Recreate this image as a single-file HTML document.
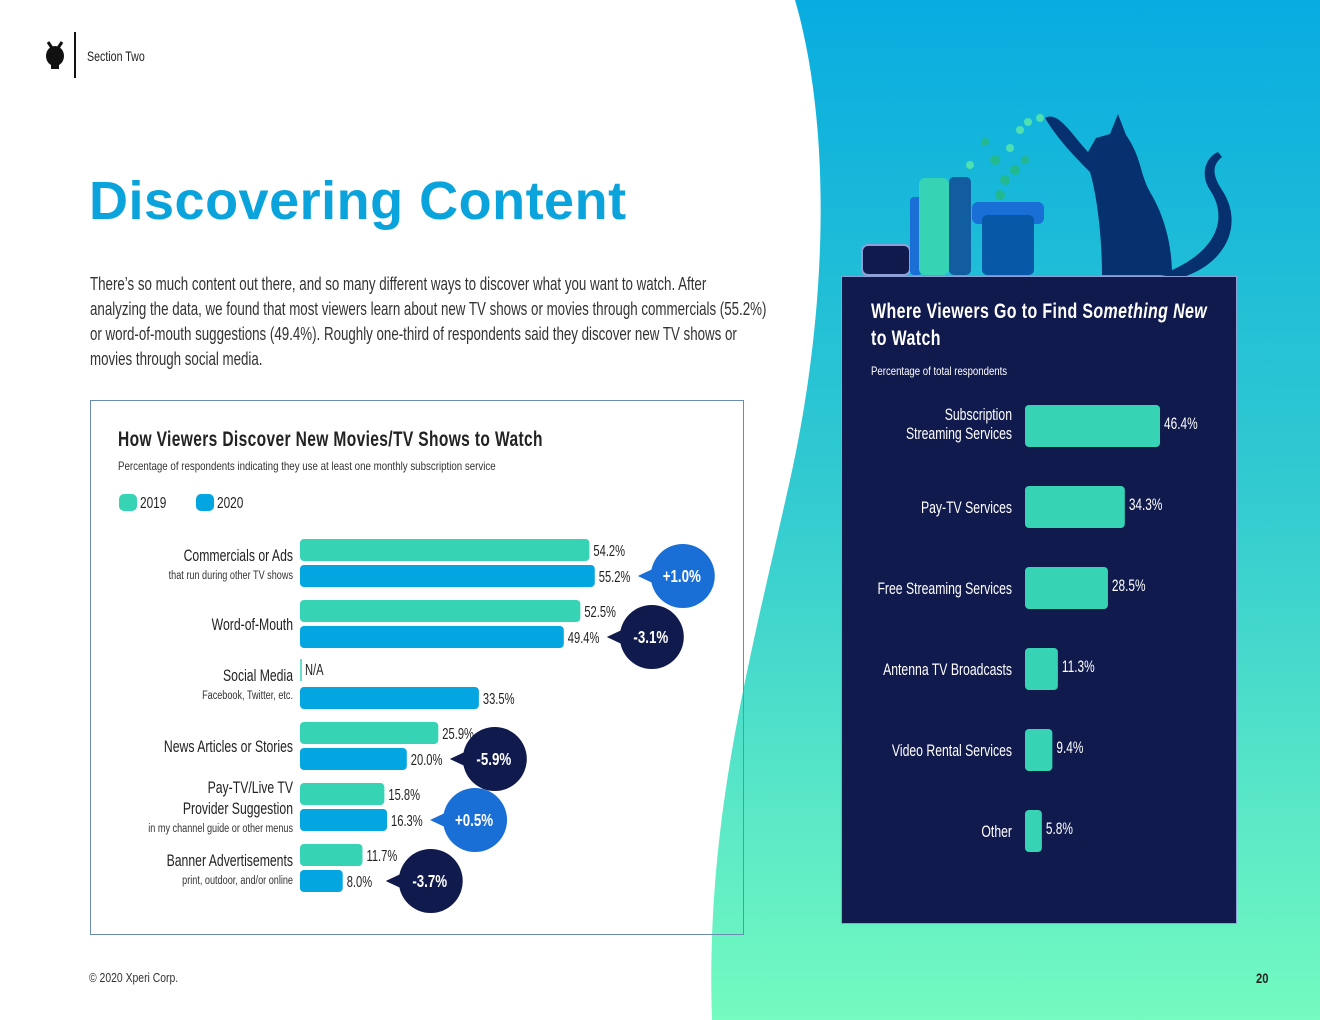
<!DOCTYPE html>
<html><head><meta charset="utf-8"><style>
body{margin:0;width:1320px;height:1020px;overflow:hidden;background:#fff;font-family:"Liberation Sans",sans-serif;position:relative}
.abs{position:absolute}
.c{transform-origin:0 0;white-space:nowrap}
</style></head><body>
<svg class="abs" style="left:0;top:0" width="1320" height="1020">
<defs><linearGradient id="bg" x1="0" y1="0" x2="0" y2="1"><stop offset="0" stop-color="#08ace0"/><stop offset="0.5" stop-color="#34ccd0"/><stop offset="1" stop-color="#74fbc0"/></linearGradient></defs>
<path d="M795,0 C830,120 830,300 790,480 C750,660 705,820 712,1020 L1320,1020 L1320,0 Z" fill="url(#bg)"/>
<g><ellipse cx="55" cy="56" rx="9" ry="10" fill="#111"/><rect x="51" y="64" width="8" height="5" fill="#111"/><line x1="48" y1="42" x2="52" y2="48" stroke="#111" stroke-width="3"/><line x1="62" y1="42" x2="58" y2="48" stroke="#111" stroke-width="3"/></g>
<line x1="75" y1="32" x2="75" y2="78" stroke="#111" stroke-width="2"/>
<g>
<rect x="862" y="245" width="48" height="30" rx="6" fill="#101a4c" stroke="#8fa0d8" stroke-width="2"/>
<rect x="910" y="197" width="12" height="78" rx="4" fill="#1a6fd6"/>
<rect x="919" y="178" width="30" height="97" rx="6" fill="#36d4b4"/>
<rect x="949" y="177" width="22" height="98" rx="5" fill="#125ca0"/>
<rect x="972" y="202" width="72" height="22" rx="6" fill="#1a6fd6"/>
<rect x="982" y="215" width="52" height="60" rx="5" fill="#0858a8"/>
<g fill="#22b890"><circle cx="985" cy="142" r="4"/><circle cx="995" cy="160" r="5"/><circle cx="1005" cy="180" r="5"/><circle cx="1015" cy="170" r="5"/><circle cx="1025" cy="160" r="4"/><circle cx="1000" cy="195" r="5"/></g>
<g fill="#4ee0b0"><circle cx="1020" cy="130" r="4"/><circle cx="1028" cy="122" r="4"/><circle cx="1040" cy="118" r="4"/><circle cx="970" cy="165" r="4"/><circle cx="1010" cy="148" r="4"/></g>
<path d="M1045,118 C1058,110 1072,135 1088,152 L1096,138 L1110,134 L1118,114 L1126,135 C1142,158 1140,175 1150,192 C1162,212 1172,240 1172,275 L1102,275 C1102,232 1096,192 1090,172 C1078,160 1058,140 1045,118 Z" fill="#06306e"/>
<path d="M1160,275 C1215,255 1230,220 1210,190 C1200,175 1205,158 1218,152 L1222,157 C1212,165 1212,175 1222,190 C1245,225 1225,265 1180,278 Z" fill="#06306e"/>
</g>
</svg>
<div class="abs c" style="left:87px;top:48px;font-size:14px;color:#222;transform:scaleX(0.76)">Section Two</div>
<div class="abs" style="left:89px;top:170px;font-size:54px;font-weight:bold;color:#0aa3dc;letter-spacing:0.5px">Discovering Content</div>
<div class="abs c" style="left:90px;top:271px;width:965px;font-size:18.5px;line-height:25px;color:#333;white-space:normal;transform:scaleX(0.72)">There’s so much content out there, and so many different ways to discover what you want to watch. After<br>analyzing the data, we found that most viewers learn about new TV shows or movies through commercials (55.2%)<br>or word-of-mouth suggestions (49.4%). Roughly one-third of respondents said they discover new TV shows or<br>movies through social media.</div>
<div class="abs" style="left:90px;top:400px;width:652px;height:533px;border:1px solid #6a8cb0"></div>
<div class="abs c" style="left:118px;top:428px;font-size:21px;font-weight:bold;color:#222;letter-spacing:0.5px;transform:scaleX(0.74)">How Viewers Discover New Movies/TV Shows to Watch</div>
<div class="abs c" style="left:118px;top:459px;font-size:12px;color:#333;transform:scaleX(0.81)">Percentage of respondents indicating they use at least one monthly subscription service</div>
<div class="abs" style="left:841px;top:276px;width:394px;height:646px;background:#101a4c;border:1px solid #8fa0d8"></div>
<div class="abs c" style="left:871px;top:298px;width:460px;font-size:21px;font-weight:bold;color:#fff;line-height:27px;letter-spacing:0.5px;white-space:normal;transform:scaleX(0.76)">Where Viewers Go to Find S<i>omething New</i><br>to Watch</div>
<div class="abs c" style="left:871px;top:364px;font-size:12px;color:#fff;transform:scaleX(0.8)">Percentage of total respondents</div>
<div class="abs c" style="left:89px;top:970px;font-size:13px;color:#333;transform:scaleX(0.8)">© 2020 Xperi Corp.</div>
<div class="abs c" style="left:1256px;top:970px;font-size:14px;font-weight:bold;color:#222;transform:scaleX(0.8)">20</div>
<svg id="chart" class="abs" style="left:0;top:0" width="1320" height="1020"></svg>
<script>
const cats=["Commercials or Ads","Word-of-Mouth","Social Media","News Articles or Stories","Pay-TV/Live TV|Provider Suggestion","Banner Advertisements"];
const subs=["that run during other TV shows","","Facebook, Twitter, etc.","","in my channel guide or other menus","print, outdoor, and/or online"];
const v2019=[54.2,52.5,null,25.9,15.8,11.7];
const v2020=[55.2,49.4,33.5,20.0,16.3,8.0];
const changes=["+1.0%","-3.1%",null,"-5.9%","+0.5%","-3.7%"];
const rCats=["Subscription|Streaming Services","Pay-TV Services","Free Streaming Services","Antenna TV Broadcasts","Video Rental Services","Other"];
const rVals=[46.4,34.3,28.5,11.3,9.4,5.8];

const NS="http://www.w3.org/2000/svg",svg=document.getElementById("chart");
function mk(t,a,p){const e=document.createElementNS(NS,t);for(const k in a)e.setAttribute(k,a[k]);(p||svg).appendChild(e);return e;}
function T(x,y,s,size,anchor,sx,weight,fill,p){const e=mk("text",{x:0,y:0,transform:`translate(${x},${y}) scale(${sx},1)`,"font-size":size,"text-anchor":anchor||"start","font-weight":weight||"normal",fill:fill||"#222","font-family":"Liberation Sans,sans-serif"},p);e.textContent=s;return e;}
const x=v=>300+v*5.34, gy=i=>539+i*61;
[["2019","#36d4b4",119],["2020","#03a6e0",196]].forEach(l=>{
 const r=mk("rect",{x:l[2],y:494,width:18,height:17,rx:5,fill:l[1]});
 
 
 const t=T(l[2]+21,508,l[0],16,"start",0.74);
 
 
});
cats.forEach((c,i)=>{
 const y=gy(i);
 if(v2019[i]!==null){
  const b=mk("rect",{x:300,y:y,width:x(v2019[i])-300,height:22,rx:4,fill:"#36d4b4"});
  
  
  T(x(v2019[i])+4,y+17,v2019[i].toFixed(1)+"%",15.5,"start",0.72);
 } else {
  mk("line",{x1:301,y1:y-2,x2:301,y2:y+20,stroke:"#36d4b4","stroke-width":1.5});
  T(305,y+14,"N/A",15.5,"start",0.72);
 }
 const y2=y+26;
 const b=mk("rect",{x:300,y:y2,width:x(v2020[i])-300,height:22,rx:4,fill:"#03a6e0"});
 
 
 T(x(v2020[i])+4,y2+17,v2020[i].toFixed(1)+"%",15.5,"start",0.72);
 if(changes[i]){
  const pos=changes[i][0]=="+";const col=pos?"#1a6fd6":"#101a4c";
  const cx=x(v2020[i])+88,cy=y2+11;
  const g=mk("g",{});
  
  
  mk("circle",{cx:cx,cy:cy,r:32,fill:col},g);
  mk("path",{d:`M${cx-45},${cy} L${cx-28},${cy-8} L${cx-28},${cy+8} Z`,fill:col},g);
  T(cx-1,cy+6,changes[i],18,"middle",0.74,"bold","#fff",g);
 }
 const lines=c.split("|");const hasSub=subs[i]!=="";
 let ly = lines.length>1 ? y+10 : (hasSub? y+22 : y+30);
 if(i==2) ly=y+20;
 lines.forEach((ln,k)=>{const lt=T(293,ly+k*21,ln,17,"end",0.72);
  
  });
 if(hasSub){T(293,ly+(lines.length-1)*21+18,subs[i],12,"end",0.76,"normal","#333");}
});
const rx=v=>1025+v*2.91, ry=i=>405+i*81;
rCats.forEach((c,i)=>{
 const y=ry(i);
 const b=mk("rect",{x:1025,y:y,width:rx(rVals[i])-1025,height:42,rx:4,fill:"#36d4b4"});
 
 
 T(rx(rVals[i])+4,y+24,rVals[i].toFixed(1)+"%",16.5,"start",0.72,"normal","#fff");
 const lines=c.split("|");
 lines.forEach((ln,k)=>{const lt=T(1012,y+(lines.length>1?15:27)+k*19,ln,17,"end",0.72,"normal","#fff");
  
  });
});
</script>
</body></html>
